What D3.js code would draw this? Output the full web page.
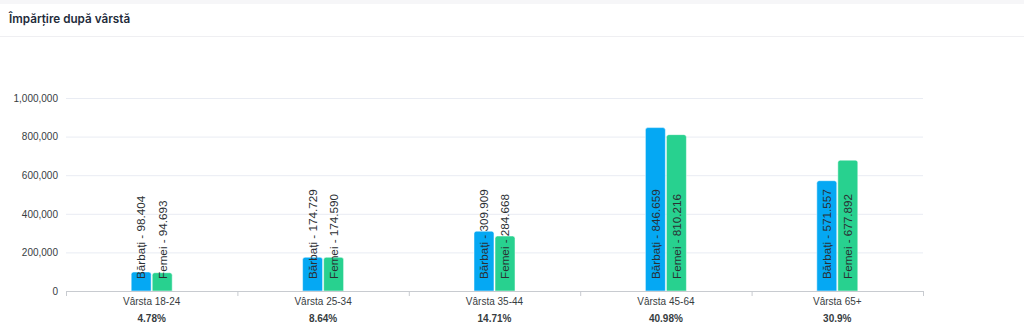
<!DOCTYPE html>
<html><head><meta charset="utf-8">
<script src="https://cdn.jsdelivr.net/npm/d3@7"></script>
<style>
html,body{margin:0;padding:0;background:#fff;}
body{width:1024px;height:333px;overflow:hidden;font-family:"Liberation Sans",Arial,sans-serif;}
</style></head><body>
<svg id="c" width="1024" height="333"></svg>
<script>
const categories = ["Vârsta 18-24","Vârsta 25-34","Vârsta 35-44","Vârsta 45-64","Vârsta 65+"];
const percents = ["4.78%","8.64%","14.71%","40.98%","30.9%"];
const seriesNames = ["Bărbați","Femei"];
const barbati = [98404,174729,309909,846659,571557];
const femei = [94693,174590,284668,810216,677892];
const yTicks = [0,200000,400000,600000,800000,1000000];
const colors = ["#05a8f3","#28d18f"];

(function(){
const svg = d3.select("#c");
// header
svg.append("rect").attr("x",0).attr("y",0).attr("width",1024).attr("height",4).attr("fill","#f6f6f8");
svg.append("line").attr("x1",0).attr("x2",1024).attr("y1",36.5).attr("y2",36.5).attr("stroke","#efeff2");
svg.append("text").attr("x",9).attr("y",23).attr("font-size",11.7).attr("font-weight",600)
  .attr("font-family","Inter, 'Noto Sans', sans-serif")
  .attr("fill","#232b3a").text("Împărțire după vârstă");

const pl=66,pr=923,pt=98,pb=291;
const x = d3.scaleBand().domain(categories).range([pl,pr]);
const y = d3.scaleLinear().domain([0,1000000]).range([pb,pt]);

// grid
svg.append("g").selectAll("line").data(yTicks.filter(d=>d>0)).join("line")
  .attr("x1",pl).attr("x2",pr).attr("y1",d=>y(d)+0.5).attr("y2",d=>y(d)+0.5)
  .attr("stroke","#e9ecf3");
// y labels
svg.append("g").selectAll("text").data(yTicks).join("text")
  .attr("x",58).attr("y",d=>y(d)+3.8).attr("text-anchor","end").attr("font-size",10)
  .attr("fill","#373d3f").text(d=>d3.format(",")(d));

const data = categories.map((c,i)=>({c,vals:[barbati[i],femei[i]]}));
const xs = d3.scaleBand().domain([0,1]).range([-20.5,20.5]).paddingInner(0.05);
const r=2.5;
function barPath(x0,w,yt){
  const yb=pb;
  return `M${x0},${yb}V${yt+r}Q${x0},${yt} ${x0+r},${yt}H${x0+w-r}Q${x0+w},${yt} ${x0+w},${yt+r}V${yb}Z`;
}
const g = svg.append("g");
data.forEach(d=>{
  const cx = x(d.c)+x.bandwidth()/2;
  d.vals.forEach((v,j)=>{
    const x0 = cx+xs(j), w = xs.bandwidth();
    g.append("path").attr("d",barPath(x0,w,y(v))).attr("fill",colors[j])
      .attr("stroke","#fff").attr("stroke-width",0.5);
    const lx = x0+w/2;
    g.append("text").attr("transform",`translate(${lx+4.3},${pb-12}) rotate(-90)`)
      .attr("font-size",11.7).attr("fill","#2b2f33").attr("text-anchor","start")
      .text(seriesNames[j]+" - "+d3.format(",")(v).replace(/,/g,"."));
  });
});

// x axis
svg.append("line").attr("x1",pl).attr("x2",pr).attr("y1",pb+0.5).attr("y2",pb+0.5)
  .attr("stroke","#c8cbd0").attr("stroke-width",1.2);
const bounds = categories.map(c=>x(c)).concat([pr]);
svg.append("g").selectAll("line").data(bounds).join("line")
  .attr("x1",d=>d+0.5).attr("x2",d=>d+0.5).attr("y1",pb).attr("y2",pb+5)
  .attr("stroke","#c8cbd0");
svg.append("g").selectAll("text").data(categories).join("text")
  .attr("x",d=>x(d)+x.bandwidth()/2).attr("y",305).attr("text-anchor","middle")
  .attr("font-size",10).attr("fill","#373d3f").text(d=>d);
svg.append("g").selectAll("text").data(categories).join("text")
  .attr("x",d=>x(d)+x.bandwidth()/2).attr("y",322).attr("text-anchor","middle")
  .attr("font-size",10).attr("font-weight",700).attr("fill","#373d3f").text((d,i)=>percents[i]);
})();
</script>
</body></html>
